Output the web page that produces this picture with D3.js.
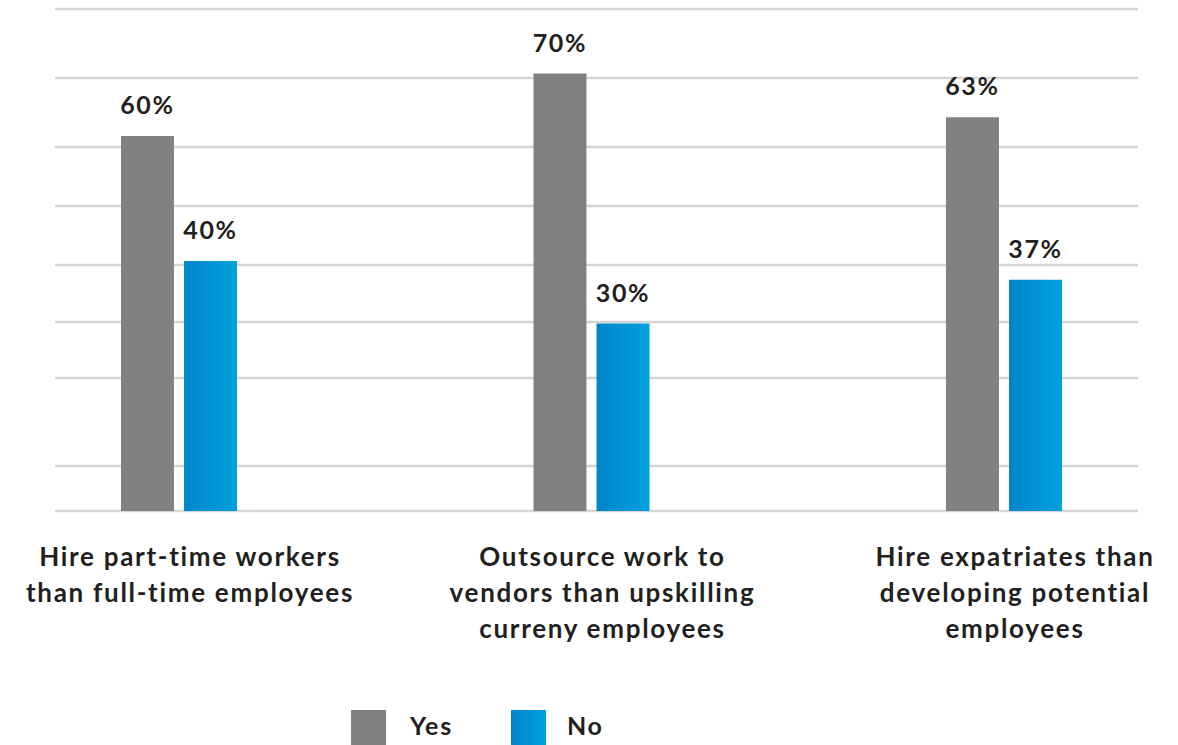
<!DOCTYPE html>
<html>
<head>
<meta charset="utf-8">
<script src="https://cdn.jsdelivr.net/npm/d3@7"></script>
<style>
    body { margin: 0; background: #fff; }
    text { font-family: Lato, "Noto Sans", sans-serif; font-weight: 700; fill: #231f20; letter-spacing: 1.7px; }
</style>
</head>
<body>
<div id="my_dataviz"></div>
<script>
// chart data
var categories = [
    ["Hire part-time workers", "than full-time employees"],
    ["Outsource work to", "vendors than upskilling", "curreny employees"],
    ["Hire expatriates than", "developing potential", "employees"]
];
var seriesNames = ["Yes", "No"];
var yesValues = [60, 70, 63];
var noValues = [40, 30, 37];
// the background lines are not evenly spaced in the original
var gridValues = [0, 7.2, 21.3, 30.2, 39.4, 48.8, 58.2, 69.3, 80.3];

var width = 1178;
var height = 745;

var svg = d3
    .select("#my_dataviz")
    .append("svg")
    .attr("id", "svg")
    .attr("width", width)
    .attr("height", height);

var defs = svg.append("defs");
var grad = defs.append("linearGradient")
    .attr("id", "blueGrad")
    .attr("x1", "0%").attr("x2", "100%")
    .attr("y1", "0%").attr("y2", "0%");
grad.append("stop").attr("offset", "0%").attr("stop-color", "#0085ca");
grad.append("stop").attr("offset", "100%").attr("stop-color", "#00a1dc");

var color = d3.scaleOrdinal()
    .domain(seriesNames)
    .range(["#808183", "url(#blueGrad)"]);

var y = d3.scaleLinear().domain([0, 80]).range([511, 11]);

var x0 = d3.scalePoint()
    .domain(d3.range(categories.length))
    .range([179, 1004]);

var x1 = d3.scaleBand()
    .domain(seriesNames)
    .range([-58, 58])
    .paddingInner(0.16);

// grid lines
svg.append("g")
    .selectAll("line")
    .data(gridValues)
    .enter()
    .append("line")
    .attr("x1", 55)
    .attr("x2", 1138)
    .attr("y1", function (d) { return Math.round(y(d)); })
    .attr("y2", function (d) { return Math.round(y(d)); })
    .attr("stroke", "#d5d5d6")
    .attr("stroke-width", 2.5);

var rows = [];
categories.forEach(function (c, i) {
    rows.push({ cat: i, key: "Yes", value: yesValues[i] });
    rows.push({ cat: i, key: "No", value: noValues[i] });
});

svg.append("g")
    .selectAll("rect")
    .data(rows)
    .enter()
    .append("rect")
    .attr("x", function (d) { return x0(d.cat) + x1(d.key); })
    .attr("y", function (d) { return y(d.value); })
    .attr("width", x1.bandwidth())
    .attr("height", function (d) { return y(0) - y(d.value); })
    .attr("fill", function (d) { return color(d.key); });

// value labels
svg.append("g")
    .selectAll("text")
    .data(rows)
    .enter()
    .append("text")
    .attr("x", function (d) { return x0(d.cat) + x1(d.key) + x1.bandwidth() / 2; })
    .attr("y", function (d) { return y(d.value) - 22; })
    .attr("text-anchor", "middle")
    .style("font-size", "25px")
    .text(function (d) { return d.value + "%"; });

// category labels
var catLabels = svg.append("g")
    .selectAll("text")
    .data(categories)
    .enter()
    .append("text")
    .attr("x", function (d, i) { return x0(i) + 11; })
    .attr("y", 566)
    .attr("text-anchor", "middle")
    .style("font-size", "26px");

catLabels.selectAll("tspan")
    .data(function (d) { return d; })
    .enter()
    .append("tspan")
    .attr("x", function () { return this.parentNode.getAttribute("x"); })
    .attr("dy", function (d, i) { return i === 0 ? 0 : 36; })
    .text(function (d) { return d; });

// legend
var legendX = d3.scaleOrdinal().domain(seriesNames).range([351, 511]);
var legend = svg.append("g")
    .selectAll("g")
    .data(seriesNames)
    .enter()
    .append("g")
    .attr("transform", function (d) { return "translate(" + legendX(d) + ",710)"; });

legend.append("rect")
    .attr("width", 35)
    .attr("height", 35)
    .attr("fill", function (d) { return color(d); });

legend.append("text")
    .attr("x", function (d) { return d === "Yes" ? 59 : 56; })
    .attr("y", 25)
    .style("font-size", "25px")
    .text(function (d) { return d; });
</script>
</body>
</html>
